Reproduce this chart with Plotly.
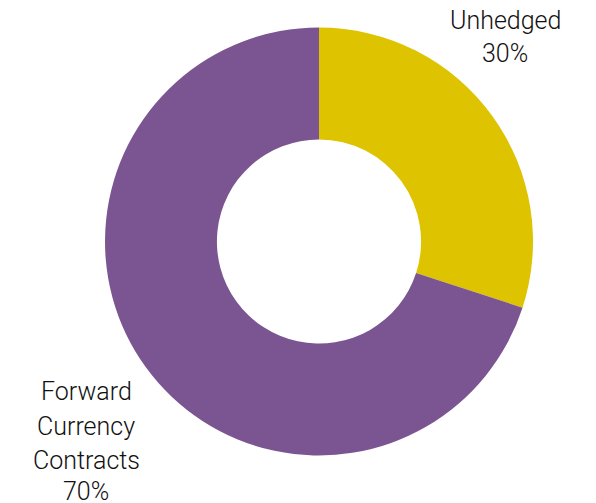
import plotly.graph_objects as go

labels = ["Unhedged", "Forward Currency Contracts"]
values = [30, 70]
colors = ["#DEC300", "#7B5592"]
# label lines shown outside the donut
label_lines = [["Unhedged"], ["Forward", "Currency", "Contracts"]]

W, H = 596, 503

fig = go.Figure(go.Pie(
    labels=labels,
    values=values,
    marker=dict(colors=colors, line=dict(width=0)),
    hole=0.477,
    sort=False,
    direction="clockwise",
    rotation=0,
    textinfo="none",
    hoverinfo="label+percent",
    domain=dict(x=[105 / W, 533 / W], y=[1 - 456 / H, 1 - 27 / H]),
    showlegend=False,
))

# annotation anchor positions (pixel centres) for each slice's label block
anchors = [(505, [21, 53]), (86, [391, 426, 460, 491])]

annotations = []
for lines, v, (cx, ys) in zip(label_lines, values, anchors):
    all_lines = lines + [f"{v}%"]
    for t, cy in zip(all_lines, ys):
        annotations.append(dict(
            text=t, xref="paper", yref="paper",
            x=cx / W, y=1 - cy / H,
            xanchor="center", yanchor="middle", showarrow=False,
            font=dict(family="Roboto", size=25, color="#111111", weight=300),
        ))

fig.update_layout(
    width=W, height=H,
    margin=dict(l=0, r=0, t=0, b=0),
    paper_bgcolor="white",
    plot_bgcolor="white",
    annotations=annotations,
)

fig.write_html("out.html", config={"displayModeBar": False},
               post_script="document.body.style.margin='0';")
